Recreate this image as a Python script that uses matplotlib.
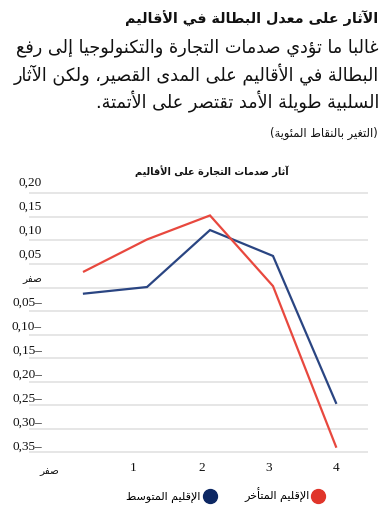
import matplotlib
matplotlib.use("Agg")
import matplotlib.pyplot as plt
import matplotlib.transforms as mtransforms
from matplotlib.lines import Line2D

# ---------------- data ----------------
x_values = [0, 1, 2, 3, 4]
x_labels = ["صفر", "1", "2", "3", "4"]
lagging_region = [0.034, 0.102, 0.153, 0.003, -0.338]   # الإقليم المتأخر (red)
average_region = [-0.013, 0.001, 0.122, 0.067, -0.245]  # الإقليم المتوسط (blue)
y_ticks = [0.20, 0.15, 0.10, 0.05, 0.0, -0.05, -0.10, -0.15, -0.20, -0.25, -0.30, -0.35]
y_labels = ["0,20", "0,15", "0,10", "0,05", "صفر", "0,05–", "0,10–", "0,15–",
            "0,20–", "0,25–", "0,30–", "0,35–"]

title = "الآثار على معدل البطالة في الأقاليم"
subtitle_lines = [
    "غالبا ما تؤدي صدمات التجارة والتكنولوجيا إلى رفع",
    "البطالة في الأقاليم على المدى القصير، ولكن الآثار",
    "السلبية طويلة الأمد تقتصر على الأتمتة.",
]
note = "(التغير بالنقاط المئوية)"
chart_title = "آثار صدمات التجارة على الأقاليم"
legend_labels = ["الإقليم المتأخر", "الإقليم المتوسط"]

# ---------------- minimal Arabic shaping ----------------
_counts = [(0x621, 1), (0x622, 2), (0x623, 2), (0x624, 2), (0x625, 2), (0x626, 4),
           (0x627, 2), (0x628, 4), (0x629, 2), (0x62A, 4), (0x62B, 4), (0x62C, 4),
           (0x62D, 4), (0x62E, 4), (0x62F, 2), (0x630, 2), (0x631, 2), (0x632, 2),
           (0x633, 4), (0x634, 4), (0x635, 4), (0x636, 4), (0x637, 4), (0x638, 4),
           (0x639, 4), (0x63A, 4), (0x641, 4), (0x642, 4), (0x643, 4), (0x644, 4),
           (0x645, 4), (0x646, 4), (0x647, 4), (0x648, 2), (0x649, 2), (0x64A, 4)]
FORMS = {}
_c = 0xFE80
for cp, n in _counts:
    FORMS[chr(cp)] = [chr(_c + k) for k in range(n)]
    _c += n
LAMALEF = {"آ": ("\uFEF5", "\uFEF6"), "أ": ("\uFEF7", "\uFEF8"),
           "إ": ("\uFEF9", "\uFEFA"), "ا": ("\uFEFB", "\uFEFC")}


def ar(s):
    out = []
    prev_dual = False
    i = 0
    n = len(s)
    while i < n:
        ch = s[i]
        if ch == "ل" and i + 1 < n and s[i + 1] in LAMALEF:
            out.append(LAMALEF[s[i + 1]][1 if prev_dual else 0])
            prev_dual = False
            i += 2
            continue
        if ch in FORMS:
            f = FORMS[ch]
            dual = len(f) == 4
            nxt = s[i + 1] if i + 1 < n else ""
            next_join = dual and nxt in FORMS and len(FORMS[nxt]) >= 2
            if len(f) == 1:
                out.append(f[0])
            elif prev_dual and next_join:
                out.append(f[3])
            elif prev_dual:
                out.append(f[1])
            elif next_join:
                out.append(f[2])
            else:
                out.append(f[0])
            prev_dual = dual
        else:
            out.append(ch)
            prev_dual = False
        i += 1
    vis = "".join(reversed(out))
    return vis.translate(str.maketrans("()", ")("))


AR = ["DejaVu Sans"]
NUM = ["Liberation Serif", "DejaVu Serif"]

W, H = 392, 515
fig = plt.figure(figsize=(W / 100, H / 100), dpi=100)
fig.patch.set_facecolor("white")

# axes geometry (pixels)
px_per_unit = 470.9
zero_px = 287.5
ymax, ymin = 0.202, -0.352
top_px = zero_px - ymax * px_per_unit
bot_px = zero_px - ymin * px_per_unit
left_px, right_px = 29, 368
x0_px, x_step = 84, 63
ax = fig.add_axes([left_px / W, 1 - bot_px / H, (right_px - left_px) / W, (bot_px - top_px) / H])
ax.set_xlim((left_px - x0_px) / x_step, (right_px - x0_px) / x_step)
ax.set_ylim(ymin, ymax)
for s in ax.spines.values():
    s.set_visible(False)
ax.set_yticks([])
ax.set_xticks([])
ax.patch.set_alpha(0)

for v in y_ticks:
    ax.axhline(v, color="#e4e4e4", lw=1.3, zorder=1)

red_line = "#e8483e"
blue_line = "#2a4582"
ax.plot(x_values, average_region, color=blue_line, lw=1.6, zorder=3, solid_joinstyle="miter")
ax.plot(x_values, lagging_region, color=red_line, lw=1.6, zorder=3, solid_joinstyle="miter")

# y labels (above the gridlines)
base_tr = mtransforms.blended_transform_factory(fig.transFigure, ax.transData)
for i, (v, lab) in enumerate(zip(y_ticks, y_labels)):
    off = 10.5 - i * 0.45
    tr = mtransforms.offset_copy(base_tr, fig=fig, x=0, y=off, units="dots")
    if lab == "صفر":
        ax.text(42.5 / W, v, ar(lab), transform=tr, ha="right", va="center",
                fontsize=7.5, family=AR, color="#111111")
    else:
        ax.text(42 / W, v, lab, transform=tr, ha="right", va="center",
                fontsize=9.5, family=NUM, color="#111111")

# x labels
x_label_px = [49, 133, 202, 269, 336]
for xp, lab in zip(x_label_px, x_labels):
    if lab == "صفر":
        fig.text(xp / W, 1 - 471 / H, ar(lab), ha="center", va="center",
                 fontsize=7.5, family=AR, color="#111111")
    else:
        fig.text(xp / W, 1 - 468 / H, lab, ha="center", va="center",
                 fontsize=9.5, family=NUM, color="#111111")

# texts
fig.text(378 / W, 1 - 19 / H, ar(title), ha="right", va="center", fontsize=10.3,
         fontweight="bold", family=AR, color="#111111")
for k, line in enumerate(subtitle_lines):
    fig.text(379 / W, 1 - (48 + k * 27) / H, ar(line), ha="right", va="center",
             fontsize=12.7, family=AR, color="#111111")
fig.text(378 / W, 1 - 133 / H, ar(note), ha="right", va="center", fontsize=8.3,
         family=AR, color="#111111")
fig.text(212 / W, 1 - 172 / H, ar(chart_title), ha="center", va="center",
         fontsize=7.0, fontweight="bold", family=AR, color="#111111")

# legend (RTL: markers to the right of labels; red item on the right)
handles = [
    Line2D([], [], ls="none", marker="o", ms=10, mfc="#0c2763", mec="#0c2763"),
    Line2D([], [], ls="none", marker="o", ms=10, mfc="#e0352a", mec="#e0352a"),
]
leg = fig.legend(handles, [ar(legend_labels[1]), ar(legend_labels[0])], ncol=2,
                 markerfirst=False, frameon=False, loc="center",
                 bbox_to_anchor=(225 / W, 1 - 495 / H), prop={"family": AR, "size": 8},
                 handletextpad=0.3, columnspacing=2.6, handlelength=1.0)

fig.savefig("out.png", dpi=100)
